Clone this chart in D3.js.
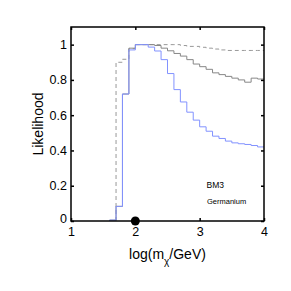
<!DOCTYPE html>
<html>
<head>
<meta charset="utf-8">
<script src="https://cdn.jsdelivr.net/npm/d3@7"></script>
<style>
  body { margin: 0; background: #fff; }
  text { font-family: "Liberation Sans", Arial, sans-serif; fill: #000; }
</style>
</head>
<body>
<div id="chart"></div>
<script>
// bin edges in log(m/GeV)
const binEdges = [1.6, 1.7, 1.8, 1.9, 2.0, 2.1, 2.2, 2.3, 2.4, 2.5, 2.6, 2.7, 2.8,
  2.9, 3.0, 3.1, 3.2, 3.3, 3.4, 3.5, 3.6, 3.7, 3.8, 3.9, 4.0];

// likelihood per bin
const blueValues = [0.005, 0.083, 0.72, 0.97, 1.0, 1.0, 0.986, 0.964, 0.915, 0.836,
  0.745, 0.675, 0.617, 0.572, 0.534, 0.509, 0.481, 0.468, 0.453, 0.443, 0.438,
  0.434, 0.428, 0.42];
const graySolidValues = [0.005, 0.083, 0.72, 0.98, 1.0, 1.0, 1.0, 0.995, 0.98, 0.965,
  0.95, 0.935, 0.915, 0.89, 0.875, 0.86, 0.84, 0.83, 0.82, 0.81, 0.80, 0.787,
  0.81, 0.805];
const grayDashedValues = [null, 0.90, 0.917, 0.977, 1.0, 1.0, 1.0, 1.0, 1.0, 1.0,
  1.0, 0.995, 0.99, 0.99, 0.985, 0.98, 0.975, 0.97, 0.967, 0.967, 0.967, 0.967,
  0.967, 0.967];

const xTicks = [1, 2, 3, 4];
const yTicks = [0, 0.2, 0.4, 0.6, 0.8, 1];
const markerX = [2];

const margin = { top: 27, right: 27, bottom: 70, left: 71 };
const width = 291 - margin.left - margin.right;
const height = 291 - margin.top - margin.bottom;

const svg = d3.select("#chart")
  .append("svg")
  .attr("width", 291)
  .attr("height", 291)
  .append("g")
  .attr("transform", `translate(${margin.left},${margin.top})`);

const x = d3.scaleLinear().domain([1, 4]).range([0, width]);
const y = d3.scaleLinear().domain([0, 1.1]).range([height, 0]);

// turn bin values into a step outline
function stepPoints(values) {
  const pts = [];
  let started = false;
  values.forEach((v, i) => {
    if (v === null) return;
    if (!started) {
      pts.push([binEdges[i], 0]);
      started = true;
    }
    pts.push([binEdges[i], v]);
    pts.push([binEdges[i + 1], v]);
  });
  return pts;
}

const line = d3.line().x((d) => x(d[0])).y((d) => y(d[1]));

svg.append("path")
  .attr("d", line(stepPoints(grayDashedValues)))
  .attr("fill", "none")
  .attr("stroke", "#999")
  .attr("stroke-width", 1)
  .attr("stroke-dasharray", "4,3");

svg.append("path")
  .attr("d", line(stepPoints(graySolidValues)))
  .attr("fill", "none")
  .attr("stroke", "#878787")
  .attr("stroke-width", 1);

svg.append("path")
  .attr("d", line(stepPoints(blueValues)))
  .attr("fill", "none")
  .attr("stroke", "#8292ff")
  .attr("stroke-width", 1);

// axes box, ticks inward on all four sides
svg.append("rect")
  .attr("width", width)
  .attr("height", height)
  .attr("fill", "none")
  .attr("stroke", "#000")
  .attr("stroke-width", 1.5);

const tickLen = 3;
const bottomAxis = svg.append("g")
  .attr("transform", `translate(0,${height})`)
  .call(d3.axisBottom(x).tickValues(xTicks).tickSizeInner(-tickLen).tickSizeOuter(0)
    .tickPadding(6).tickFormat(d3.format("d")));
const topAxis = svg.append("g")
  .call(d3.axisTop(x).tickValues(xTicks).tickSizeInner(-tickLen).tickSizeOuter(0)
    .tickFormat(""));
const leftAxis = svg.append("g")
  .call(d3.axisLeft(y).tickValues(yTicks).tickSizeInner(-tickLen).tickSizeOuter(0)
    .tickPadding(4).tickFormat((d) => (d === 0 || d === 1 ? d3.format("d")(d) : d3.format(".1f")(d))));
const rightAxis = svg.append("g")
  .attr("transform", `translate(${width},0)`)
  .call(d3.axisRight(y).tickValues(yTicks).tickSizeInner(-tickLen).tickSizeOuter(0)
    .tickFormat(""));

[bottomAxis, topAxis, leftAxis, rightAxis].forEach((g) => {
  g.select(".domain").remove();
  g.selectAll("line").attr("stroke", "#000").attr("stroke-width", 1.5);
  g.selectAll("text")
    .style("font-family", "'Liberation Sans', Arial, sans-serif")
    .style("font-size", "12.5px")
    .attr("fill", "#000");
});
// MATLAB-style: the "0" sits a little lower, the "1" on x a bit lower too
leftAxis.selectAll("text").filter((d) => d === 0).attr("dy", "0.15em");
bottomAxis.selectAll("text").attr("dy", "0.75em");

// marker on the x axis
svg.selectAll(".marker")
  .data(markerX)
  .enter()
  .append("circle")
  .attr("class", "marker")
  .attr("cx", (d) => x(d))
  .attr("cy", y(0))
  .attr("r", 4.5)
  .attr("fill", "#000");

// labels
svg.append("text")
  .attr("transform", `translate(${43 - margin.left},${124 - margin.top}) rotate(-90)`)
  .attr("text-anchor", "middle")
  .style("font-size", "14px")
  .text("Likelihood");

const xLabel = svg.append("text")
  .attr("x", width / 2)
  .attr("y", 259 - margin.top)
  .attr("text-anchor", "middle")
  .style("font-size", "14px");
xLabel.append("tspan").text("log(m");
xLabel.append("tspan").attr("dy", 6).style("font-size", "10px").text("χ");
xLabel.append("tspan").attr("dy", -6).text("/GeV)");

svg.append("text")
  .attr("x", 206.5 - margin.left)
  .attr("y", 187.5 - margin.top)
  .style("font-size", "8.5px")
  .text("BM3");

svg.append("text")
  .attr("x", 207 - margin.left)
  .attr("y", 204 - margin.top)
  .style("font-size", "7.5px")
  .attr("fill", "#222")
  .text("Germanium");
</script>
</body>
</html>
